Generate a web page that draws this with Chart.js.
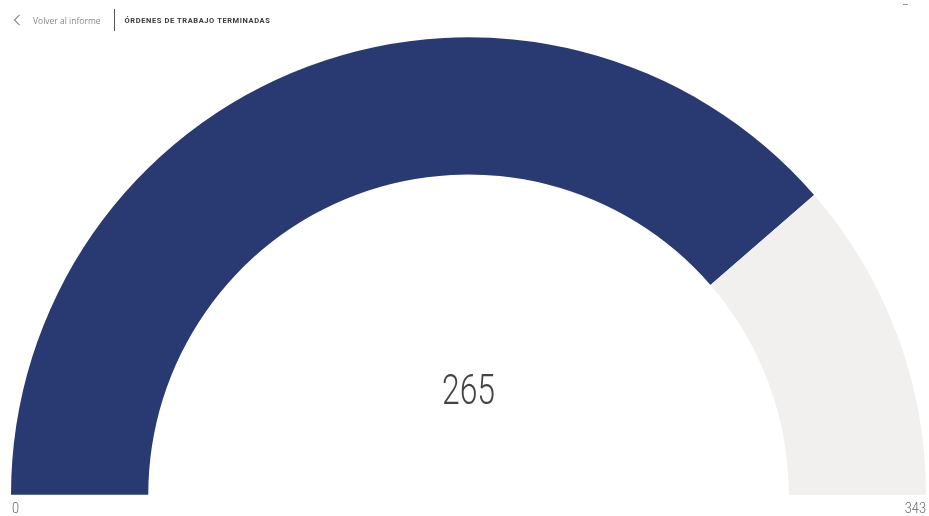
<!DOCTYPE html>
<html lang="es">
<head>
<meta charset="utf-8">
<title>Órdenes de trabajo terminadas</title>
<script src="https://cdn.jsdelivr.net/npm/chart.js@4/dist/chart.umd.min.js"></script>
<style>
  html, body { margin: 0; padding: 0; background: #fff; width: 929px; height: 516px; overflow: hidden; }
  #wrap { position: relative; width: 929px; height: 516px; }
  #gauge { position: absolute; left: 0; top: 0; }
  .nav { position: absolute; top: 9px; left: 13px; height: 22px; display: flex; align-items: center; font-family: "Open Sans", sans-serif; }
  .back { color: #8a8a8a; font-size: 8.5px; display: flex; align-items: center; }
  .back svg { margin-right: 12px; }
  .sep { width: 1px; height: 22px; background: #555; margin: 0 10px 0 13px; }
  .title { font-family: "Roboto", sans-serif; font-weight: 700; font-size: 7.5px; letter-spacing: 0.6px; color: #3a3a3a; }
  .tick { position: absolute; top: 4px; left: 903px; width: 5px; height: 1px; background: #999; }
</style>
</head>
<body>
<div id="wrap">
  <canvas id="gauge" width="929" height="516"></canvas>
  <div class="nav">
    <div class="back">
      <svg width="8" height="12" viewBox="0 0 8 12"><path d="M6.5 0.8 L1.5 6 L6.5 11.2" fill="none" stroke="#8a8a8a" stroke-width="1.2"/></svg>
      <span>Volver al informe</span>
    </div>
    <div class="sep"></div>
    <div class="title">ÓRDENES DE TRABAJO TERMINADAS</div>
  </div>
  <div class="tick"></div>
</div>
<script>
// Gauge value and range
const gaugeMin = 0;
const gaugeMax = 343;
const gaugeValue = 265;
const segmentLabels = ['Terminadas', 'Restantes'];
const segmentColors = ['#293a73', '#f1f0ef'];

// Draws the current value in the middle and the min/max under both ends
const gaugeText = {
  id: 'gaugeText',
  afterDraw(chart) {
    const arc = chart.getDatasetMeta(0).data[0];
    if (!arc) return;
    const { x, y, outerRadius } = arc;
    const ctx = chart.ctx;
    ctx.save();
    ctx.textBaseline = 'middle';

    ctx.fillStyle = '#444';
    ctx.font = '300 42px "Roboto", sans-serif';
    ctx.textAlign = 'center';
    ctx.save();
    ctx.translate(x, y - 101);
    ctx.scale(0.76, 1);
    ctx.fillText(String(gaugeValue), 0, 0);
    ctx.restore();

    ctx.fillStyle = '#666';
    ctx.font = '300 15px "Roboto", sans-serif';
    ctx.textAlign = 'left';
    ctx.save();
    ctx.translate(x - outerRadius + 1, y + 14);
    ctx.scale(0.85, 1);
    ctx.fillText(String(gaugeMin), 0, 0);
    ctx.restore();

    ctx.textAlign = 'right';
    ctx.save();
    ctx.translate(x + outerRadius, y + 14);
    ctx.scale(0.85, 1);
    ctx.fillText(String(gaugeMax), 0, 0);
    ctx.restore();

    ctx.restore();
  }
};

new Chart(document.getElementById('gauge'), {
  type: 'doughnut',
  data: {
    labels: segmentLabels,
    datasets: [{
      data: [gaugeValue - gaugeMin, gaugeMax - gaugeValue],
      backgroundColor: segmentColors,
      borderWidth: 0,
      hoverOffset: 0
    }]
  },
  options: {
    responsive: false,
    animation: false,
    rotation: -90,
    circumference: 180,
    cutout: '70%',
    layout: { padding: { left: 11, top: 37, right: 3, bottom: 21 } },
    plugins: { legend: { display: false }, tooltip: { enabled: false } }
  },
  plugins: [gaugeText]
});
</script>
</body>
</html>
